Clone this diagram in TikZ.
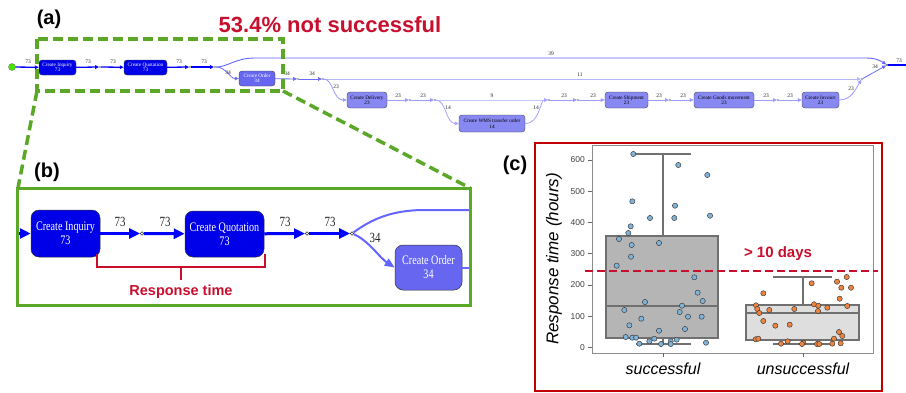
\documentclass[tikz,border=0pt]{standalone}
\usepackage{fontspec}
\setmainfont{Liberation Serif}
\setsansfont{Liberation Sans}
\newfontfamily\cserif[FakeStretch=0.78]{Liberation Serif}
\usetikzlibrary{arrows.meta}
\definecolor{gA}{HTML}{5BA829}
\definecolor{pblue}{HTML}{0000E8}
\definecolor{lblue}{HTML}{0000FF}
\definecolor{ordc}{HTML}{6666F0}
\definecolor{litc}{HTML}{8888F2}
\definecolor{ec34}{HTML}{6B6BFF}
\definecolor{ec39}{HTML}{6565FF}
\definecolor{ec11}{HTML}{B5B5FF}
\definecolor{ec23}{HTML}{9A9AFF}
\definecolor{ec9}{HTML}{C5C5FF}
\definecolor{ec14}{HTML}{A5A5FF}
\definecolor{redc}{HTML}{C8102E}
\definecolor{boxred}{HTML}{C00000}
\definecolor{sptc}{HTML}{7FB3D9}
\definecolor{uptc}{HTML}{F0843F}
\definecolor{boxln}{HTML}{707070}
\tikzset{
  pa/.style={rounded corners=3pt, draw=black!75, line width=0.35pt, inner sep=0pt, align=center,
    minimum height=15pt, font=\rmfamily\fontsize{5.2}{5.4}\selectfont},
  darkA/.style={pa, fill=pblue, text=white},
  ordA/.style={pa, fill=ordc, text=white},
  litA/.style={pa, fill=litc, text=black},
  ela/.style={font=\rmfamily\fontsize{5.5}{6}\selectfont, inner sep=0pt, text=black!85},
  dotA/.style={circle, draw=black!70, fill=white, inner sep=0pt, minimum size=1.6pt, line width=0.25pt},
  tipA/.style={-{Triangle[length=4pt,width=3.6pt]}},
  e73a/.style={tipA, draw=lblue, line width=1.3pt},
  e34a/.style={tipA, draw=ec34, line width=0.8pt},
  e39a/.style={tipA, draw=ec39, line width=0.9pt},
  e11a/.style={tipA, draw=ec11, line width=0.8pt},
  e23a/.style={tipA, draw=ec23, line width=0.8pt},
  e9a/.style={tipA, draw=ec9, line width=0.8pt},
  e14a/.style={tipA, draw=ec14, line width=0.8pt},
  pb/.style={rounded corners=8pt, draw=black!80, line width=0.5pt, inner sep=0pt, align=center,
    text=white, font=\cserif\fontsize{13}{14}\selectfont},
  elb/.style={font=\cserif\fontsize{14}{15}\selectfont, inner sep=0pt, text=black!85},
  dotB/.style={circle, draw=black!80, fill=white, inner sep=0pt, minimum size=3.5pt, line width=0.4pt},
  bm/.style={draw=lblue, line width=3pt, -{Triangle[length=11pt,width=10pt]}},
  bc/.style={draw=ec39, line width=2pt},
  gdash/.style={draw=gA, line width=3.5pt, dash pattern=on 10pt off 5pt},
  hd/.style={font=\sffamily\bfseries\fontsize{20}{22}\selectfont, inner sep=0pt},
  sp/.style={circle, fill=sptc, draw=black!75, line width=0.5pt, inner sep=0pt, minimum size=5.2pt},
  up/.style={circle, fill=uptc, draw=black!75, line width=0.5pt, inner sep=0pt, minimum size=5.2pt},
  tl/.style={font=\sffamily\fontsize{8.5}{9}\selectfont, text=black!75, anchor=east, inner sep=0pt},
}
\begin{document}
\begin{tikzpicture}[x=1pt,y=-1pt]
\useasboundingbox[fill=white] (0,0) rectangle (906,392);

% ================= (a) =================
\node[hd] (la) at (49,19) {(a)};
\node[font=\sffamily\bfseries\fontsize{22}{24}\selectfont, text=redc, inner sep=0pt] (ns) at (330,25) {53.4\% not successful};

\node[circle, fill=green!70!yellow!90!black, draw=black!60, line width=0.3pt, minimum size=7pt, inner sep=0pt] (st) at (12,67) {};
\node[darkA, minimum width=37pt] (inqA) at (57.5,67.5) {Create Inquiry\\73};
\node[darkA, minimum width=43pt] (quoA) at (145.5,67.5) {Create Quotation\\73};
\node[ordA, minimum width=36pt] (ordA) at (257,78.5) {Create Order\\34};
\node[litA, minimum width=40pt, minimum height=16pt] (delA) at (367,100) {Create Delivery\\23};
\node[litA, minimum width=66pt, minimum height=17pt] (wmsA) at (492,123.5) {Create WMS transfer order\\14};
\node[litA, minimum width=43pt, minimum height=16pt] (shipA) at (626.5,100) {Create Shipment\\23};
\node[litA, minimum width=60pt, minimum height=16pt] (goodsA) at (724,100) {Create Goods movement\\23};
\node[litA, minimum width=37pt, minimum height=16pt] (invA) at (820.5,100) {Create Invoice\\23};

\node[dotA] (d1) at (100,67) {};
\node[dotA] (d2) at (190,67) {};
\node[dotA] (d3) at (215,67) {};
\node[dotA] (d4) at (298,79) {};
\node[dotA] (d5) at (323,79) {};
\node[dotA] (d6) at (410,100) {};
\node[dotA] (d7) at (435,100) {};
\node[dotA] (m3) at (549,100) {};
\node[dotA] (d8) at (578,100) {};
\node[dotA] (d9) at (670,100) {};
\node[dotA] (d10) at (778,100) {};
\node[dotA] (m1) at (862,79) {};
\node[dotA, fill=black!70] (m2) at (887,65) {};
\coordinate (outA) at (906,65);

\draw[e73a] (st) -- (inqA);
\draw[e73a] (inqA) -- (d1);
\draw[e73a] (d1) -- (quoA);
\draw[e73a] (quoA) -- (d2);
\draw[e73a] (d2) -- (d3);
\draw[e39a] (d3) .. controls (228,67) and (235,58) .. (255,58) -- (866,58) .. controls (876,58) and (881,61) .. (m2);
\draw[e34a] (d3) .. controls (226,67) and (230,78.5) .. (ordA.west);
\draw[e34a] (ordA) -- (d4);
\draw[e34a] (d4) -- (d5);
\draw[e11a] (d5) -- (m1);
\draw[e23a] (d5) .. controls (333,79) and (333,100) .. (delA.west);
\draw[e23a] (delA) -- (d6);
\draw[e23a] (d6) -- (d7);
\draw[e9a] (d7) -- (m3);
\draw[e14a] (d7) .. controls (446,100) and (446,123.5) .. (wmsA.west);
\draw[e14a] (wmsA.east) .. controls (540,123.5) and (540,100) .. (m3);
\draw[e23a] (m3) -- (d8);
\draw[e23a] (d8) -- (shipA);
\draw[e23a] (shipA) -- (d9);
\draw[e23a] (d9) -- (goodsA);
\draw[e23a] (goodsA) -- (d10);
\draw[e23a] (d10) -- (invA);
\draw[e23a] (invA.east) .. controls (852,100) and (856,88) .. (m1);
\draw[e34a] (m1) -- (m2);
\draw[draw=lblue, line width=1.3pt] (m2) -- (outA);

\node[ela] (l01) at (28,62) {73};
\node[ela] (l02) at (88,62) {73};
\node[ela] (l03) at (113,62) {73};
\node[ela] (l04) at (179,62) {73};
\node[ela] (l05) at (204,62) {73};
\node[ela] (l06) at (228,73) {34};
\node[ela] (l07) at (287,74) {34};
\node[ela] (l08) at (312,74) {34};
\node[ela] (l09) at (551,54) {39};
\node[ela] (l10) at (580,75) {11};
\node[ela] (l11) at (336,87) {23};
\node[ela] (l12) at (398,96) {23};
\node[ela] (l13) at (423,96) {23};
\node[ela] (l14) at (492,96) {9};
\node[ela] (l15) at (448,108) {14};
\node[ela] (l16) at (536,108) {14};
\node[ela] (l17) at (564,96) {23};
\node[ela] (l18) at (593,96) {23};
\node[ela] (l19) at (659,96) {23};
\node[ela] (l20) at (683,96) {23};
\node[ela] (l21) at (766,96) {23};
\node[ela] (l22) at (790,96) {23};
\node[ela] (l23) at (851,89) {23};
\node[ela] (l24) at (875,67) {34};
\node[ela] (l25) at (899,61) {73};

% zoom outline
\draw[gdash] (37,39) rectangle (283,91);
\draw[gdash] (37,91) -- (18,188);
\draw[gdash] (283,91) -- (470,188);

% ================= (b) =================
\node[hd] (lb) at (47,172) {(b)};
\node[pb, fill=pblue, minimum width=69pt, minimum height=47pt] (inqB) at (65.5,233.5) {Create Inquiry\\73};
\node[pb, fill=pblue, minimum width=79pt, minimum height=46pt] (quoB) at (224.5,234) {Create Quotation\\73};
\node[pb, fill=ordc, minimum width=67pt, minimum height=45pt] (ordB) at (428.5,267.5) {Create Order\\34};
\node[dotB] (dB1) at (142,233.5) {};
\node[dotB] (dB2) at (307,233.5) {};
\node[dotB] (dB3) at (352,233.5) {};
\coordinate (inB) at (17,233.5);
\coordinate (outB1) at (470,210);
\coordinate (outB2) at (470,267.5);

\draw[bm] (inB) -- (inqB);
\draw[bm] (inqB) -- (dB1);
\draw[bm] (dB1) -- (quoB);
\draw[bm] (quoB) -- (dB2);
\draw[bm] (dB2) -- (dB3);
\draw[bc] (dB3) .. controls (372,219) and (392,210) .. (425,210) -- (outB1);
\draw[bc, -{Triangle[length=10pt,width=8pt]}] (dB3) .. controls (368,240) and (380,258) .. (ordB.west);
\draw[bc] (ordB) -- (outB2);

\node[elb] (lb1) at (120,222) {73};
\node[elb] (lb2) at (165,222) {73};
\node[elb] (lb3) at (285,222) {73};
\node[elb] (lb4) at (330,222) {73};
\node[elb] (lb5) at (375,238) {34};

\draw[redc, line width=2pt] (97,254) -- (97,267) -- (265,267) -- (265,254);
\draw[redc, line width=2pt] (181,267) -- (181,280);
\node[font=\sffamily\bfseries\fontsize{14.5}{16}\selectfont, text=redc, inner sep=0pt] (rt) at (181,292) {Response time};

\draw[draw=gA, line width=3pt] (17,188) rectangle (470,305);

% ================= (c) =================
\node[hd] (lc) at (515,165) {(c)};
\draw[draw=boxred, line width=2pt] (535,143) rectangle (882,391);

% axes frame
\draw[black!45, line width=0.7pt] (592,145) rectangle (873,353.3);
\foreach \v/\yy in {0/347.3,100/316.1,200/284.9,300/253.6,400/222.4,500/191.2,600/160.0}{
  \draw[black!60, line width=0.6pt] (588,\yy) -- (592,\yy);
  \node[tl] at (585,\yy) {\v};
}
\draw[black!60, line width=0.6pt] (663,353.3) -- (663,357);
\draw[black!60, line width=0.6pt] (803,353.3) -- (803,357);
\node[font=\sffamily\itshape\fontsize{17}{18}\selectfont, rotate=90, inner sep=0pt] (yl) at (554,259) {Response time (hours)};
\node[font=\sffamily\itshape\fontsize{16}{17}\selectfont, inner sep=0pt] (xs) at (663,369) {successful};
\node[font=\sffamily\itshape\fontsize{16}{17}\selectfont, inner sep=0pt] (xu) at (803,369) {unsuccessful};

% successful box
\draw[boxln, line width=2pt] (663,235.8) -- (663,153.7);
\draw[boxln, line width=2pt] (634,153.7) -- (691,153.7);
\draw[boxln, line width=2pt] (663,337.9) -- (663,343.6);
\draw[boxln, line width=2pt] (636,343.6) -- (691,343.6);
\draw[boxln, line width=2pt, fill=black!29] (606,235.8) rectangle (718,337.9);
\draw[boxln, line width=2pt] (606,305.8) -- (718,305.8);

% unsuccessful box
\draw[boxln, line width=2pt] (803,304.5) -- (803,277.4);
\draw[boxln, line width=2pt] (773,277.4) -- (832,277.4);
\draw[boxln, line width=2pt] (803,339.5) -- (803,343.6);
\draw[boxln, line width=2pt] (773,343.6) -- (832,343.6);
\draw[boxln, line width=2pt, fill=black!13] (746,304.5) rectangle (859,339.5);
\draw[boxln, line width=2pt] (746,312.6) -- (859,312.6);

% points
\foreach \px/\py in {633.3/154,678.3/165,707.3/175,632.3/201.3,675/205.7,650/218,674.3/218,710/215.7,
  630.7/226.3,628.3/233,619/239,631.7/245,659/243,631/256.7,616.7/265.7,694.3/277.3,697.7/292.7,
  702.7/301,645/302,682/305.7,624.3/310,679.7/312,688/316.7,701.7/316.7,641.3/318.7,629.3/325.3,
  685/329,659/330.7,625.7/337,632.3/337.7,636/337.7,654.3/338.7,676.7/339.7,649.3/341.3,670.7/341.3,
  639.3/343.7,661/344,670.7/344,706/342.7}{
  \node[sp] at (\px,\py) {};
}
\foreach \px/\py in {846.7/277,837/281.7,811.7/283.3,841.3/287.7,851/287.7,839.7/298.7,763.3/293.3,
  814/304.3,818.3/305.7,756/305.3,847.3/306,827.3/307.7,757.3/309,794.3/309,769.3/310,818/311,
  759.3/313,763.3/321,775.3/325.7,789.7/324.7,839/332,842.3/336,834/338.7,755.7/339.3,758.3/338.7,
  787.7/341.3,781/343.7,803.3/342.7,802/344,817/344,819.3/344,832.3/343.7,840.7/343.3}{
  \node[up] at (\px,\py) {};
}

% threshold
\draw[redc, line width=2.5pt, dash pattern=on 8pt off 4pt] (585,270.8) -- (878,270.8);
\node[font=\sffamily\bfseries\fontsize{15}{16}\selectfont, text=redc, inner sep=0pt] (td) at (778,254) {> 10 days};
\end{tikzpicture}
\end{document}
